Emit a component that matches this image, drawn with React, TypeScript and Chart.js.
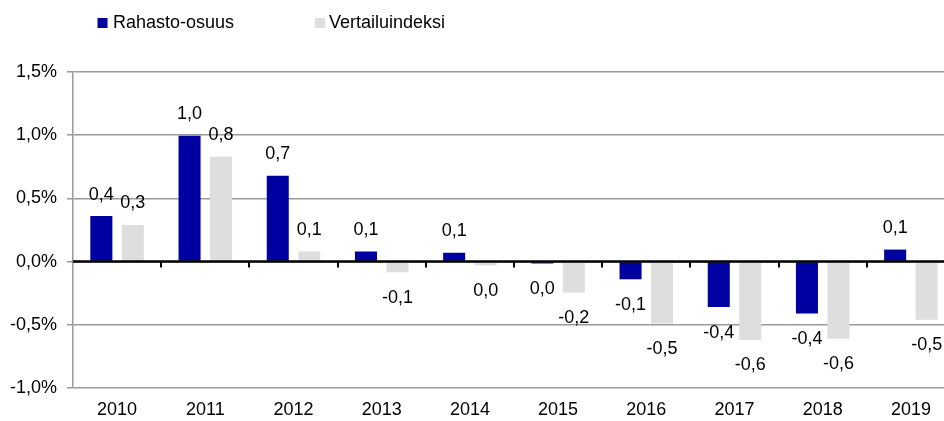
import React, { useEffect, useRef } from "react";
import { Chart, registerables } from "chart.js";

Chart.register(...registerables);

const categories = ["2010", "2011", "2012", "2013", "2014", "2015", "2016", "2017", "2018", "2019"];
const fundValues = [0.36, 0.995, 0.68, 0.08, 0.07, -0.015, -0.14, -0.36, -0.41, 0.095];
const indexValues = [0.29, 0.83, 0.08, -0.085, -0.03, -0.245, -0.49, -0.62, -0.61, -0.46];
const seriesNames = ["Rahasto-osuus", "Vertailuindeksi"];
const seriesColors = ["#0000A0", "#DEDEDE"];
const yMin = -1.0;
const yMax = 1.5;
const yStep = 0.5;

const FONT = "'Liberation Sans', Arial, sans-serif";

const fmt = (v: number) => {
  const r = Math.round(v * 10) / 10;
  if (Math.abs(r) < 1e-9) return "0,0";
  return r.toFixed(1).replace(".", ",");
};

const zeroLinePlugin = {
  id: "zeroLine",
  afterDatasetsDraw(chart: any) {
    const { ctx, chartArea, scales } = chart;
    const x = scales.x;
    const y = scales.y;
    const y0 = y.getPixelForValue(0);
    const n = categories.length;
    const cw = x.width / n;
    ctx.save();
    ctx.strokeStyle = "#000";
    ctx.lineWidth = 2.5;
    ctx.beginPath();
    ctx.moveTo(chartArea.left, y0);
    ctx.lineTo(chartArea.right, y0);
    ctx.stroke();
    ctx.lineWidth = 2;
    for (let i = 1; i < n; i++) {
      const bx = Math.round(x.getPixelForValue(i) - cw / 2);
      ctx.beginPath();
      ctx.moveTo(bx, y0);
      ctx.lineTo(bx, y0 + 6);
      ctx.stroke();
    }
    ctx.restore();
  },
};

const labelsPlugin = {
  id: "valueLabels",
  afterDatasetsDraw(chart: any) {
    const { ctx } = chart;
    ctx.save();
    ctx.font = `18px ${FONT}`;
    ctx.fillStyle = "#000";
    ctx.textAlign = "center";
    ctx.textBaseline = "middle";
    chart.data.datasets.forEach((ds: any, di: number) => {
      const meta = chart.getDatasetMeta(di);
      meta.data.forEach((el: any, i: number) => {
        const v = ds.data[i];
        const yy = v >= 0 ? el.y - 21.5 : el.y + 25.5;
        ctx.fillText(fmt(v), el.x, yy);
      });
    });
    ctx.restore();
  },
};

const legendPlugin = {
  id: "customLegend",
  afterDraw(chart: any) {
    const { ctx } = chart;
    const items = [
      { x: 97.5, textX: 113 },
      { x: 315, textX: 329 },
    ];
    ctx.save();
    ctx.font = `18px ${FONT}`;
    ctx.textBaseline = "middle";
    ctx.textAlign = "left";
    items.forEach((it, i) => {
      ctx.fillStyle = seriesColors[i];
      ctx.fillRect(it.x, 18, 10, 10);
      ctx.fillStyle = "#000";
      ctx.fillText(seriesNames[i], it.textX, 23);
    });
    ctx.restore();
  },
};

export default function App() {
  const ref = useRef<HTMLCanvasElement | null>(null);

  useEffect(() => {
    if (!ref.current) return;
    const chart = new Chart(ref.current, {
      type: "bar",
      data: {
        labels: categories,
        datasets: [
          {
            label: seriesNames[0],
            data: fundValues,
            backgroundColor: seriesColors[0],
            categoryPercentage: 0.714,
            barPercentage: 0.7,
          },
          {
            label: seriesNames[1],
            data: indexValues,
            backgroundColor: seriesColors[1],
            categoryPercentage: 0.714,
            barPercentage: 0.7,
          },
        ],
      },
      options: {
        animation: false,
        responsive: false,
        devicePixelRatio: 1,
        layout: { padding: { left: 0, right: 5, top: 72, bottom: 0 } },
        font: { family: FONT, size: 18 },
        plugins: {
          legend: { display: false },
          tooltip: { enabled: false },
        },
        scales: {
          x: {
            grid: { display: false, drawTicks: false, tickLength: 0 },
            border: { display: false },
            ticks: { color: "#000", font: { family: FONT, size: 18 }, padding: 11, maxRotation: 0, autoSkip: false },
            afterFit(scale: any) {
              scale.height = 33;
            },
          },
          y: {
            min: yMin,
            max: yMax,
            grid: { color: "#9a9a9a", lineWidth: 1.5, drawTicks: true, tickLength: 6 },
            border: { display: true, color: "#9a9a9a", width: 1.5 },
            ticks: {
              stepSize: yStep,
              color: "#000",
              padding: 10,
              font: { family: FONT, size: 18 },
              callback: (v: any) => {
                const n = Math.abs(Number(v)) < 1e-9 ? 0 : Number(v);
                return n.toFixed(1).replace(".", ",") + "%";
              },
            },
            afterFit(scale: any) {
              scale.width = 73;
            },
          },
        },
      } as any,
      plugins: [zeroLinePlugin, labelsPlugin, legendPlugin],
    });
    return () => chart.destroy();
  }, []);

  return (
    <div
      style={{
        position: "fixed",
        left: 0,
        top: 0,
        width: 944,
        height: 421,
        overflow: "hidden",
        background: "#fff",
      }}
    >
      <canvas ref={ref} width={960} height={421} style={{ display: "block" }} />
    </div>
  );
}
